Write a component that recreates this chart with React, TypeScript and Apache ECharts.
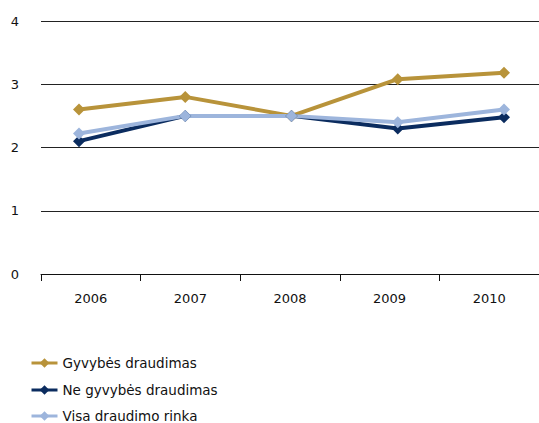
import React, { useEffect, useRef } from "react";
import * as echarts from "echarts";

const categories = ["2006", "2007", "2008", "2009", "2010"];
const yTicks = [0, 1, 2, 3, 4];
const gyvybes = [2.6, 2.8, 2.5, 3.08, 3.18];
const neGyvybes = [2.1, 2.5, 2.5, 2.3, 2.48];
const visa = [2.22, 2.5, 2.5, 2.4, 2.6];
const seriesNames = ["Gyvybės draudimas", "Ne gyvybės draudimas", "Visa draudimo rinka"];
const colors = ["#B8933A", "#0B2C5F", "#9DB5DC"];

export default function App() {
  const ref = useRef<HTMLDivElement>(null);
  useEffect(() => {
    if (!ref.current) return;
    const chart = echarts.init(ref.current, undefined, { renderer: "svg" });
    const font = "DejaVu Sans";
    const mk = (name: string, data: number[], color: string) => ({
      name,
      type: "line",
      xAxisIndex: 1,
      yAxisIndex: 1,
      data,
      symbol: "diamond",
      symbolSize: 12,
      showSymbol: true,
      lineStyle: { color, width: 4 },
      itemStyle: { color },
      z: 3,
    });
    const legendTops = [356, 383, 409];
    chart.setOption({
      animation: false,
      textStyle: { fontFamily: font },
      grid: [
        { left: 41, right: -2, top: 21, bottom: 149, containLabel: false },
        { left: 79, right: 35, top: 21, bottom: 149, containLabel: false },
      ],
      xAxis: [
        {
          type: "category",
          gridIndex: 0,
          data: categories,
          boundaryGap: true,
          axisLine: { lineStyle: { color: "#111", width: 1 } },
          axisTick: { show: true, length: 7, inside: false, lineStyle: { color: "#111" } },
          axisLabel: { color: "#111", fontSize: 13, margin: 18, fontFamily: font },
        },
        {
          type: "category",
          gridIndex: 1,
          data: categories,
          boundaryGap: false,
          show: false,
        },
      ],
      yAxis: [
        {
          type: "value",
          gridIndex: 0,
          min: 0,
          max: 4,
          interval: 1,
          axisLine: { show: false },
          axisTick: { show: false },
          splitLine: { lineStyle: { color: "#222", width: 1 } },
          axisLabel: {
            color: "#111",
            fontSize: 13,
            margin: 22,
            fontFamily: font,
            formatter: (v: number) => (yTicks.includes(v) ? String(v) : ""),
          },
        },
        {
          type: "value",
          gridIndex: 1,
          min: 0,
          max: 4,
          interval: 1,
          show: false,
          splitLine: { show: false },
        },
      ],
      legend: seriesNames.map((n, i) => ({
        orient: "vertical",
        left: 30,
        top: legendTops[i],
        padding: 0,
        itemWidth: 26,
        itemHeight: 12,
        itemGap: 5,
        lineStyle: { width: 3 },
        textStyle: { color: "#111", fontSize: 13.5, fontFamily: font, lineHeight: 14 },
        data: [n],
      })),
      series: [
        mk(seriesNames[0], gyvybes, colors[0]),
        mk(seriesNames[1], neGyvybes, colors[1]),
        mk(seriesNames[2], visa, colors[2]),
      ],
    });
    return () => chart.dispose();
  }, []);
  return (
    <div
      ref={ref}
      style={{ position: "absolute", left: 0, top: 0, width: 539, height: 423, background: "#fff" }}
    />
  );
}
